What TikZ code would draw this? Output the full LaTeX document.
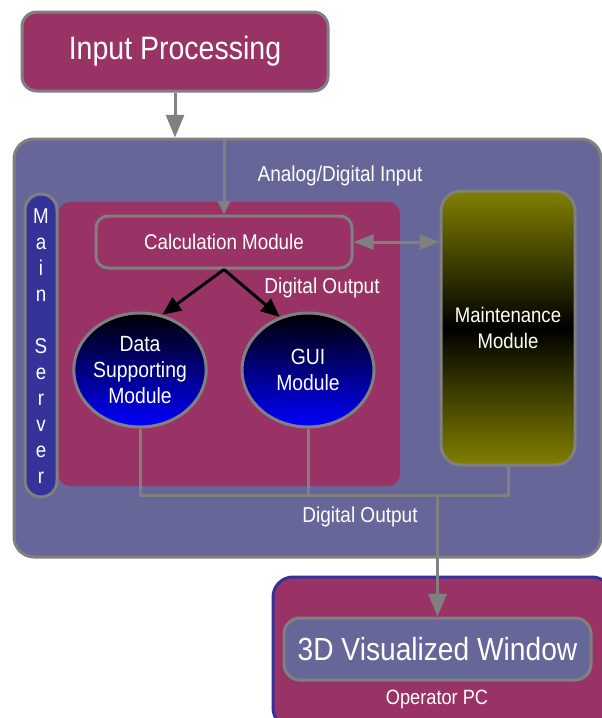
\documentclass[tikz,border=0pt]{standalone}
\usepackage{fontspec}
\setmainfont[FakeStretch=0.88]{Liberation Sans}
\usepackage{xcolor}
\usepackage{tikz}
\usetikzlibrary{arrows.meta}
\usetikzlibrary{shapes.geometric}
\definecolor{plum}{HTML}{993366}
\definecolor{slate}{HTML}{666699}
\definecolor{srvblue}{HTML}{333399}
\definecolor{wiregray}{HTML}{808080}
\definecolor{olivebar}{HTML}{808000}
\newcommand{\fs}[2]{\fontsize{#1}{#2}\selectfont}

\begin{document}
\begin{tikzpicture}[x=0.75pt, y=-0.75pt, text=white,
    box/.style={draw=wiregray, line width=2.25pt, rounded corners=9pt,
      inner sep=0pt, align=center},
    blob/.style={ellipse, draw=wiregray, line width=2.25pt, inner sep=0pt,
      minimum width=99pt, minimum height=85.5pt, top color=black,
      bottom color=blue, align=center, font=\fs{16.5pt}{19.5pt}},
    lbl/.style={inner sep=0pt, font=\fs{16.2pt}{18pt}},
    wire/.style={draw=wiregray, line width=2.25pt},
    conn/.style={wire, -{Triangle[length=17pt, width=13.5pt]}}]
    \useasboundingbox (0,0) rectangle (602,718);
    % top stage
    \node[box, fill=plum, rounded corners=11pt, minimum width=229.5pt,
      minimum height=59.25pt, font=\fs{24.3pt}{28pt}] (inproc) at (175,51.5)
      {Input Processing};
    % server side
    \node[box, fill=slate, rounded corners=15pt, minimum width=440.25pt,
      minimum height=313.5pt] (mainsrv) at (307.5,348) {};
    \node[fill=plum, rounded corners=9pt, minimum width=256.5pt,
      minimum height=213pt] (core) at (229,344) {};
    \node[box, fill=srvblue, rounded corners=12pt, minimum width=24pt,
      minimum height=227.25pt] (srvbar) at (41,345.5) {};
    \node[inner sep=0pt, align=center, font=\fs{16pt}{19.5pt}] (srvname)
      at (41,346) {M\\a\\i\\n\\~\\S\\e\\r\\v\\e\\r};
    \node[box, fill=plum, minimum width=192pt, minimum height=39pt,
      font=\fs{16pt}{18pt}] (calc) at (224,242) {Calculation Module};
    \node[box, rounded corners=15pt, minimum width=100.5pt,
      minimum height=205.5pt, top color=olivebar, bottom color=olivebar,
      middle color=black, font=\fs{15.8pt}{19.5pt}] (maint) at (508,328)
      {Maintenance\\Module};
    \node[blob] (datasup) at (140,370) {Data\\Supporting\\Module};
    \node[blob] (gui) at (308,370) {GUI\\Module};
    \node[lbl] (anin) at (340,176) {Analog/Digital Input};
    \node[lbl] (dout) at (322,288) {Digital Output};
    \node[lbl] (bout) at (360,517) {Digital Output};
    % operator side
    \node[draw=srvblue, line width=2.25pt, fill=plum, rounded corners=15pt,
      minimum width=254.25pt, minimum height=113.25pt] (oppc) at (442.5,652.5) {};
    \node[box, fill=slate, rounded corners=12pt, minimum width=230.25pt,
      minimum height=46.5pt, font=\fs{24pt}{28pt}] (view) at (437.5,649)
      {3D Visualized Window};
    \node[inner sep=0pt, font=\fs{15.5pt}{18pt}] (oplbl) at (437,699) {Operator PC};
    % connectors
    \coordinate (busy) at (0,495);
    \draw[conn] (inproc.south) -- (inproc.south |- mainsrv.north);
    \draw[wire, -{Triangle[length=10pt, width=9pt]}]
      (calc.north |- mainsrv.north) -- (calc.north);
    \draw[wire, {Triangle[length=15pt, width=11pt]}-{Triangle[length=15pt, width=11pt]}]
      (calc.east) -- (maint.west |- calc.east);
    \draw[line width=2.25pt, black, -{Triangle[length=14pt, width=12pt]}]
      (calc.south) -- (datasup.68);
    \draw[line width=2.25pt, black, -{Triangle[length=14pt, width=12pt]}]
      (calc.south) -- (gui.118);
    \draw[wire] (datasup.south) |- (maint.south |- busy) -- (maint.south);
    \draw[wire] (gui.south) -- (gui.south |- busy);
    \draw[conn] (view.north |- busy) -- (view.north);
  \end{tikzpicture}
\end{document}
